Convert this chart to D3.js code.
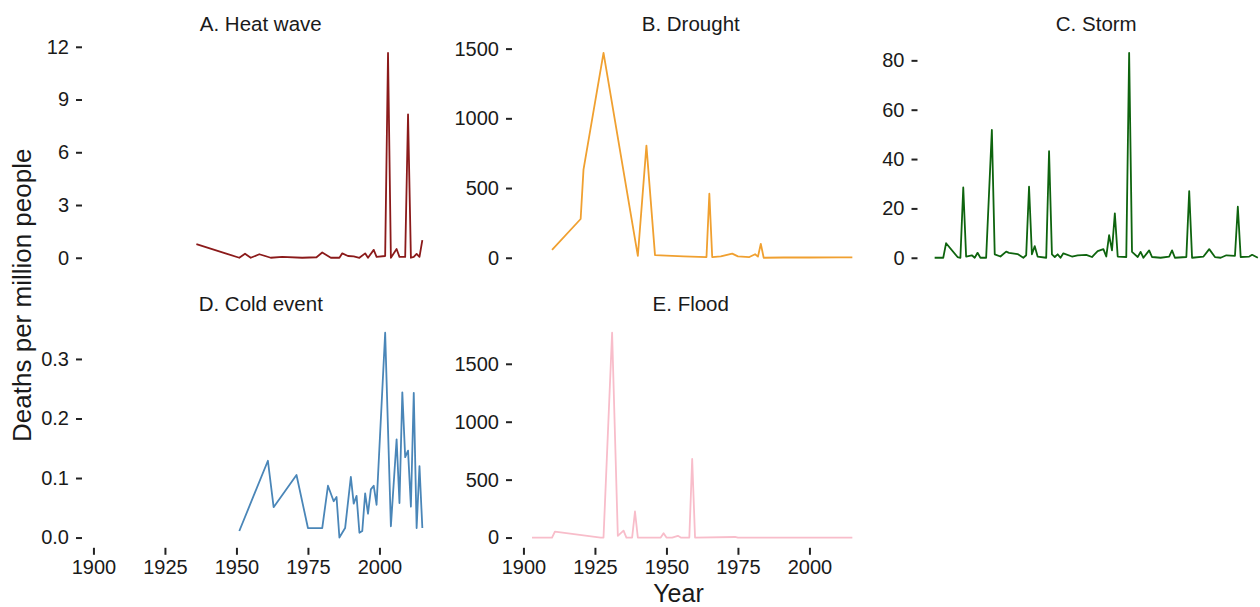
<!DOCTYPE html>
<html>
<head>
<meta charset="utf-8">
<script src="https://cdn.jsdelivr.net/npm/d3@7"></script>
<style>
  body { margin: 0; background: #fff; }
  text { font-family: "Liberation Sans", Arial, sans-serif; fill: #1a1a1a; }
</style>
</head>
<body>
<div id="chart"></div>
<script>
// values: [year, deaths per million people]
const heatWave = [
  [1936, 0.77], [1951, 0], [1953, 0.23], [1955, 0], [1958, 0.2], [1962, 0], [1966, 0.05],
  [1973, 0], [1978, 0.03], [1980, 0.3], [1983, 0], [1986, 0], [1987, 0.25], [1989, 0.1],
  [1991, 0.08], [1993, 0], [1995, 0.25], [1996, 0], [1998, 0.45], [1999, 0.05], [2002, 0.1],
  [2003, 11.65], [2004, 0], [2006, 0.5], [2007, 0.05], [2009, 0.05], [2010, 8.16], [2011, 0],
  [2012, 0.05], [2013, 0.22], [2014, 0.05], [2015, 1.0]
];

const drought = [
  [1910, 57], [1920, 278], [1921, 632], [1928, 1469], [1940, 14], [1943, 804], [1946, 19],
  [1956, 10], [1964, 5], [1965, 459], [1966, 5], [1969, 10], [1973, 30], [1975, 10],
  [1979, 5], [1981, 25], [1982, 8], [1983, 100], [1984, 0], [1991, 2], [2000, 2],
  [2010, 3], [2015, 3]
];

const storm = [
  [1902, 0], [1905, 0], [1906, 5.9], [1910, 0.3], [1911, 0], [1912, 28.5], [1913, 0.5],
  [1915, 1], [1916, 0], [1917, 2], [1918, 0], [1920, 0], [1922, 51.8], [1923, 1.4],
  [1925, 0.5], [1927, 2.5], [1928, 2], [1931, 1.5], [1933, 0], [1934, 1], [1935, 28.8],
  [1936, 1.4], [1937, 4.7], [1938, 0.5], [1941, 0], [1942, 43.2], [1943, 1.4], [1944, 0.3],
  [1945, 1.4], [1946, 0], [1947, 1.8], [1950, 0.5], [1952, 1], [1955, 1.2], [1957, 0.3],
  [1959, 2.7], [1961, 3.5], [1962, 0.5], [1963, 9.2], [1964, 3], [1965, 18], [1966, 0.5],
  [1969, 0.3], [1970, 83], [1971, 2.4], [1973, 0.3], [1974, 2.4], [1975, 0], [1977, 3],
  [1978, 0.3], [1981, 0], [1984, 0.5], [1985, 3], [1986, 0], [1990, 0.3], [1991, 27],
  [1992, 0], [1996, 0.5], [1998, 3.5], [2000, 0.3], [2002, 0], [2004, 1], [2007, 0.8],
  [2008, 20.7], [2009, 0.3], [2012, 0.5], [2013, 1.2], [2015, 0]
];

const coldEvent = [
  [1951, 0.011], [1961, 0.129], [1963, 0.051], [1971, 0.105], [1975, 0.016], [1980, 0.016],
  [1982, 0.087], [1984, 0.061], [1985, 0.068], [1986, 0.0], [1988, 0.016], [1990, 0.102],
  [1991, 0.057], [1992, 0.07], [1993, 0.008], [1994, 0.011], [1995, 0.074], [1996, 0.04],
  [1997, 0.081], [1998, 0.087], [1999, 0.055], [2002, 0.344], [2004, 0.019], [2006, 0.165],
  [2007, 0.058], [2008, 0.244], [2009, 0.135], [2010, 0.146], [2011, 0.052], [2012, 0.243],
  [2013, 0.016], [2014, 0.12], [2015, 0.016]
];

const flood = [
  [1903, 0], [1910, 0], [1911, 52], [1927, 0], [1928, 0], [1931, 1768], [1933, 15],
  [1935, 60], [1936, 0], [1938, 0], [1939, 225], [1940, 0], [1948, 0], [1949, 38],
  [1950, 0], [1952, 0], [1954, 15], [1955, 0], [1958, 0], [1959, 678], [1960, 0],
  [1974, 5], [1975, 0], [2015, 0]
];

const yearTicks = [1900, 1925, 1950, 1975, 2000];
const heatTicks = [0, 3, 6, 9, 12];
const droughtTicks = [0, 500, 1000, 1500];
const stormTicks = [0, 20, 40, 60, 80];
const coldTicks = [0, 0.1, 0.2, 0.3];
const floodTicks = [0, 500, 1000, 1500];

const W = 1260;
const H = 607;
const colLeft = [83, 513, 918.5];
const rowTop = [42.7, 322.5];
const panelW = 355.5;
const panelH = 225.3;

const panels = [
  {title: 'A. Heat wave', data: heatWave, ticks: heatTicks, color: '#8B1A1A', col: 0, row: 0, fmt: d3.format('d')},
  {title: 'B. Drought', data: drought, ticks: droughtTicks, color: '#F0A030', col: 1, row: 0, fmt: d3.format('d')},
  {title: 'C. Storm', data: storm, ticks: stormTicks, color: '#0E640E', col: 2, row: 0, fmt: d3.format('d')},
  {title: 'D. Cold event', data: coldEvent, ticks: coldTicks, color: '#4A86B8', col: 0, row: 1, fmt: d3.format('.1f'), xAxis: true},
  {title: 'E. Flood', data: flood, ticks: floodTicks, color: '#F8BDCA', col: 1, row: 1, fmt: d3.format('d'), xAxis: true}
];

// ggplot-style 5% padding on continuous scales
const padded = ([lo, hi]) => {
  const pad = (hi - lo) * 0.05;
  return [lo - pad, hi + pad];
};

const allYears = d3.extent(panels.flatMap(p => p.data.map(d => d[0])));

const svg = d3
  .select('#chart')
  .append('svg')
  .attr('width', W)
  .attr('height', H);

panels.forEach(p => {
  const g = svg
    .append('g')
    .attr('transform', `translate(${colLeft[p.col]},${rowTop[p.row]})`);

  const x = d3.scaleLinear().domain(padded(allYears)).range([0, panelW]);
  const y = d3
    .scaleLinear()
    .domain(padded(d3.extent(p.data, d => d[1])))
    .range([panelH, 0]);

  g.append('text')
    .attr('x', panelW / 2)
    .attr('y', -12)
    .attr('text-anchor', 'middle')
    .style('font-size', '20.5px')
    .text(p.title);

  const yAxis = g.append('g').call(
    d3
      .axisLeft(y)
      .tickValues(p.ticks)
      .tickFormat(p.fmt)
      .tickSize(6)
      .tickPadding(8)
  );
  yAxis.select('.domain').remove();
  yAxis.selectAll('.tick line').attr('stroke', '#222').attr('stroke-width', 2).attr('transform', 'translate(-1,0)');
  yAxis.selectAll('.tick text').style('font-size', '20px').attr('fill', '#111');

  if (p.xAxis) {
    const xAxis = g
      .append('g')
      .attr('transform', `translate(0,${panelH})`)
      .call(
        d3
          .axisBottom(x)
          .tickValues(yearTicks)
          .tickFormat(d3.format('d'))
          .tickSize(7)
          .tickPadding(5.5)
      );
    xAxis.select('.domain').remove();
    xAxis.selectAll('.tick line').attr('stroke', '#222').attr('stroke-width', 2);
    xAxis.selectAll('.tick text').style('font-size', '20px').attr('fill', '#111');
  }

  const line = d3
    .line()
    .x(d => x(d[0]))
    .y(d => y(d[1]));

  g.append('path')
    .datum(p.data)
    .attr('fill', 'none')
    .attr('stroke', p.color)
    .attr('stroke-width', 1.8)
    .attr('stroke-linejoin', 'round')
    .attr('d', line);
});

svg
  .append('text')
  .attr('transform', `translate(31,${rowTop[0] + (rowTop[1] + panelH - rowTop[0]) / 2}) rotate(-90)`)
  .attr('text-anchor', 'middle')
  .style('font-size', '26px')
  .text('Deaths per million people');

svg
  .append('text')
  .attr('x', colLeft[0] + (colLeft[2] + panelW - colLeft[0]) / 2)
  .attr('y', 601.5)
  .attr('text-anchor', 'middle')
  .style('font-size', '25px')
  .text('Year');
</script>
</body>
</html>
